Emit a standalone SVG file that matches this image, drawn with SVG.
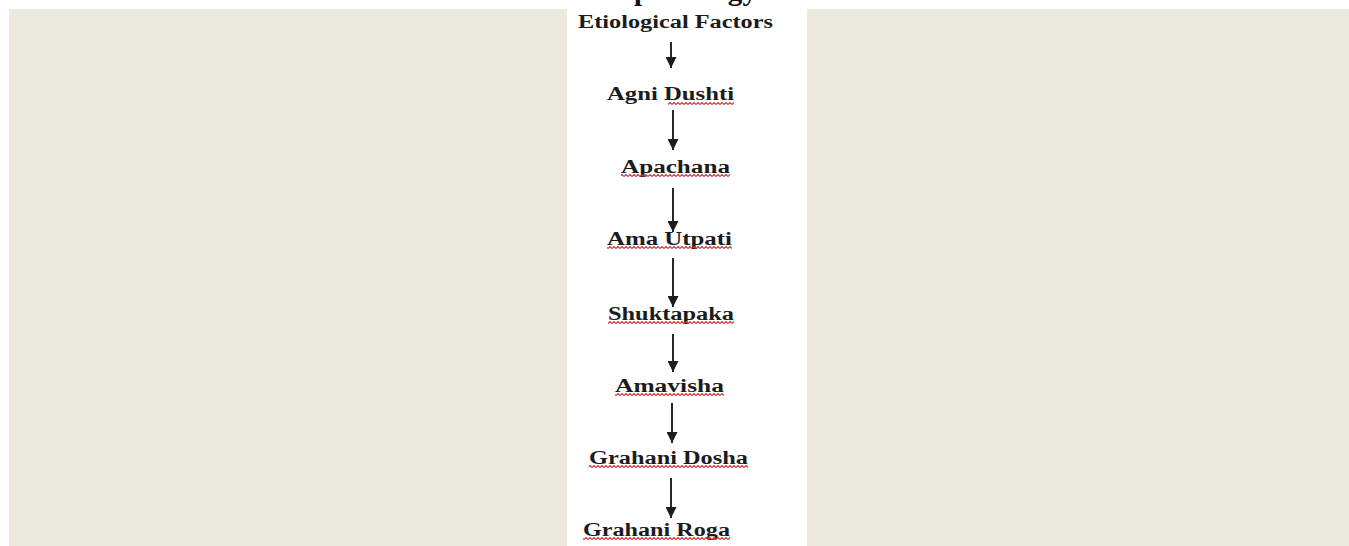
<svg xmlns="http://www.w3.org/2000/svg" width="1349" height="546" viewBox="0 0 1349 546">
  <style>
    .lbl { font-family: "Liberation Serif", "Times New Roman", serif; font-weight: bold; font-size: 18px; fill: #1c1c1c; }
    .title { font-family: "Liberation Serif", "Times New Roman", serif; font-weight: bold; font-size: 28px; fill: #111; }
    .conn { stroke: #2a2a2a; stroke-width: 2; fill: none; marker-end: url(#arrow); }
    .wave { fill: url(#wave); }
  </style>
  <defs>
    <marker id="arrow" viewBox="0 0 10 10" refX="10" refY="5" markerWidth="5.5" markerHeight="5.5" orient="auto" markerUnits="strokeWidth">
      <path d="M0 0 L10 5 L0 10 Z" fill="#1c1c1c"/>
    </marker>
    <pattern id="wave" width="4" height="3" patternUnits="userSpaceOnUse">
      <path d="M0 2.5 L2 0.5 L4 2.5" stroke="#d83030" stroke-width="1.1" fill="none"/>
    </pattern>
  </defs>

  <rect x="0" y="0" width="1349" height="546" fill="#ffffff"/>
  <rect x="9" y="9" width="1340" height="537" fill="#ece9df"/>
  <rect x="567" y="9" width="240" height="537" fill="#ffffff"/>

  <text class="title" x="634" y="0" textLength="123" lengthAdjust="spacingAndGlyphs">pathology</text>

  <g id="connectors">
    <line class="conn" x1="671" y1="42" x2="671" y2="68"/>
    <line class="conn" x1="673" y1="110" x2="673" y2="150"/>
    <line class="conn" x1="673" y1="188" x2="673" y2="232"/>
    <line class="conn" x1="673" y1="258" x2="673" y2="307"/>
    <line class="conn" x1="673" y1="334" x2="673" y2="372"/>
    <line class="conn" x1="672" y1="403" x2="672" y2="443"/>
    <line class="conn" x1="671" y1="478" x2="671" y2="518"/>
  </g>

  <g id="node-etiological-factors">
    <text class="lbl" x="578" y="28" textLength="195" lengthAdjust="spacingAndGlyphs">Etiological Factors</text>
  </g>
  <g id="node-agni-dushti">
    <text class="lbl" x="607" y="100" textLength="127" lengthAdjust="spacingAndGlyphs">Agni Dushti</text>
    <rect class="wave" x="668" y="102" width="66" height="3"/>
  </g>
  <g id="node-apachana">
    <text class="lbl" x="621" y="173" textLength="109" lengthAdjust="spacingAndGlyphs">Apachana</text>
    <rect class="wave" x="621" y="174" width="109" height="3"/>
  </g>
  <g id="node-ama-utpati">
    <text class="lbl" x="607" y="245" textLength="125" lengthAdjust="spacingAndGlyphs">Ama Utpati</text>
    <rect class="wave" x="607" y="246" width="125" height="3"/>
  </g>
  <g id="node-shuktapaka">
    <text class="lbl" x="608" y="320" textLength="126" lengthAdjust="spacingAndGlyphs">Shuktapaka</text>
    <rect class="wave" x="608" y="321" width="126" height="3"/>
  </g>
  <g id="node-amavisha">
    <text class="lbl" x="615" y="392" textLength="109" lengthAdjust="spacingAndGlyphs">Amavisha</text>
    <rect class="wave" x="615" y="393" width="109" height="3"/>
  </g>
  <g id="node-grahani-dosha">
    <text class="lbl" x="589" y="464" textLength="159" lengthAdjust="spacingAndGlyphs">Grahani Dosha</text>
    <rect class="wave" x="589" y="465" width="159" height="3"/>
  </g>
  <g id="node-grahani-roga">
    <text class="lbl" x="583" y="536" textLength="147" lengthAdjust="spacingAndGlyphs">Grahani Roga</text>
    <rect class="wave" x="583" y="537" width="147" height="3"/>
  </g>
</svg>
